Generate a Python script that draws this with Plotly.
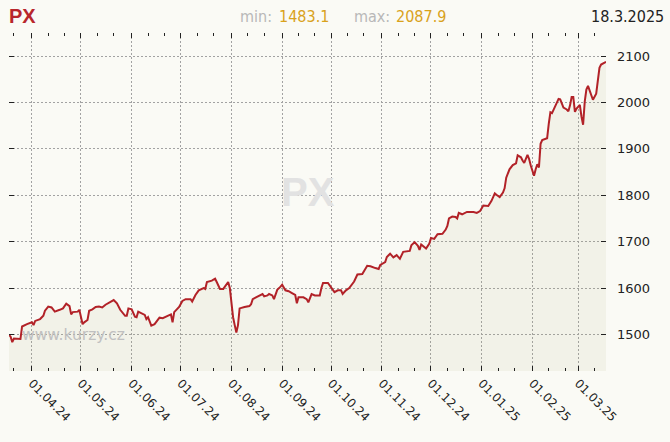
import pandas as pd
import plotly.graph_objects as go

# ---- data ----
start_date = "2024-03-18"
day_offsets = [0,1,2,3,7,8,11,14,15,16,19,21,22,24,26,28,31,33,35,37,38,39,42,43,45,46,48,49,51,53,
               55,57,59,62,64,66,68,71,72,73,75,77,78,79,82,83,84,85,87,89,92,94,97,99,100,101,104,106,108,111,
               112,114,116,119,120,121,124,126,127,129,131,134,135,136,137,138,139,140,141,144,147,148,149,151,153,155,156,158,159,161,
               162,164,166,167,169,171,173,175,176,177,180,182,183,185,187,190,191,192,195,197,199,201,203,204,206,208,210,211,213,216,
               219,221,224,226,227,230,231,233,235,237,239,241,245,246,248,250,251,252,255,257,258,260,262,265,267,268,269,271,273,274,
               275,277,280,284,286,288,290,293,295,297,298,300,302,303,304,306,308,310,311,313,314,315,317,318,319,321,322,323,324,325,
               326,329,330,331,332,334,336,337,339,341,342,343,344,345,346,347,349,350,351,352,353,354,355,356,357,359,360,361,362,365]
px_values = [1499,1495,1483.1,1491,1490,1517,1522,1526,1520,1529,1533,1540,1551,1560,1558,1549,1553,1556,1566,1561,1543,1548,1549,1553,1522,1526,1531,1551,1554,1559,
             1560,1558,1564,1569,1574,1567,1553,1540,1540,1556,1554,1538,1537,1549,1544,1542,1533,1537,1519,1522,1536,1535,1540,1543,1526,1548,1559,1572,1576,1576,
             1571,1585,1595,1600,1598,1613,1616,1620,1613,1598,1598,1613,1600,1566,1537,1520,1504,1520,1556,1559,1561,1565,1576,1580,1584,1587,1582,1584,1587,1584,
             1576,1596,1603,1607,1595,1593,1589,1585,1567,1580,1580,1576,1569,1587,1584,1584,1600,1611,1611,1600,1591,1595,1595,1587,1595,1600,1611,1614,1629,1630,
             1648,1647,1643,1641,1650,1656,1667,1674,1666,1671,1663,1678,1680,1692,1699,1691,1682,1694,1685,1696,1708,1706,1716,1717,1726,1734,1750,1754,1753,1750,
             1762,1759,1764,1764,1762,1766,1778,1777,1788,1804,1801,1796,1806,1815,1838,1856,1865,1869,1886,1882,1875,1870,1887,1878,1864,1842,1856,1867,1860,1911,
             1919,1923,1954,1979,1977,1992,2008,2007,1989,1985,1981,1994,2012,2012,1980,1987,1995,1970,1952,2002,2028,2036,2026,2012,2006,2019,2052,2075,2082,2087.9]
assert len(day_offsets) == len(px_values)

title_text = "PX"
site_text = "www.kurzy.cz"
y_ticks = [1500, 1600, 1700, 1800, 1900, 2000, 2100]

dates = pd.Timestamp(start_date) + pd.to_timedelta(day_offsets, unit="D")
last_date = dates[-1]

# minor ticks on 11th and 21st of each month
minor_vals = [d for d in pd.date_range(dates[0], last_date, freq="D") if d.day in (11, 21)]

BG = "#fafaf5"
GRID = "#a2a2a2"
DASH = "2px,2px"
fig = go.Figure()
fig.add_trace(go.Scatter(
    x=dates, y=px_values, mode="lines",
    line=dict(color="#b22228", width=2),
    fill="tozeroy", fillcolor="rgba(175,175,120,0.1)",
    hoverinfo="skip", showlegend=False,
))

fig.update_layout(
    width=670, height=442,
    margin=dict(l=9, r=64, t=33, b=71),
    paper_bgcolor=BG, plot_bgcolor=BG,
    font=dict(family="DejaVu Sans", color="#222222"),
    xaxis=dict(
        range=[dates[0], last_date],
        tickmode="linear", tick0="2024-04-01", dtick="M1",
        tickformat="%d.%m.%y", tickangle=45,
        ticks="inside", ticklen=5, tickcolor="#222222", tickwidth=1,
        mirror="ticks", showline=False, zeroline=False,
        showgrid=True, gridcolor=GRID, griddash=DASH, gridwidth=1,
        tickfont=dict(size=12, color="#222222"),
        ticklabelstandoff=2,
        minor=dict(tickmode="array", tickvals=minor_vals, ticks="inside", ticklen=3,
                   tickcolor="#222222", showgrid=False),
    ),
    yaxis=dict(
        range=[1421, 2150], side="right",
        tickmode="array", tickvals=y_ticks,
        ticks="inside", ticklen=5, tickcolor="#222222",
        mirror="ticks", showline=False, zeroline=False,
        showgrid=True, gridcolor=GRID, griddash=DASH, gridwidth=1,
        tickfont=dict(size=13, color="#222222"),
        ticklabelstandoff=10,
    ),
)

hdr_font = "DejaVu Sans Condensed, DejaVu Sans"
ann = []
ann.append(dict(text="<b>%s</b>" % title_text, x=7, y=16, font=dict(family="Liberation Sans Narrow, Liberation Sans", size=20, color="#b8262c")))
ann.append(dict(text="min:", x=238, y=16, font=dict(family=hdr_font, size=16, color="#b8b8b8")))
ann.append(dict(text="%.1f" % min(px_values), x=277, y=16, font=dict(family=hdr_font, size=16, color="#d9a21c")))
ann.append(dict(text="max:", x=352, y=16, font=dict(family=hdr_font, size=16, color="#b8b8b8")))
ann.append(dict(text="%.1f" % max(px_values), x=394, y=16, font=dict(family=hdr_font, size=16, color="#d9a21c")))
ann.append(dict(text="%d.%d.%d" % (last_date.day, last_date.month, last_date.year), x=666, y=16, xanchor="right",
                font=dict(family=hdr_font, size=16, color="#222222")))
ann.append(dict(text="<b>%s</b>" % title_text, x=308, y=192, xanchor="center",
                font=dict(family="Liberation Sans Narrow, Liberation Sans", size=40, color="#e2e2e2")))
ann.append(dict(text=site_text, x=20, y=335, font=dict(family="DejaVu Sans", size=15.5, color="#c0c0c0")))

W, H = 670, 442
for a in ann:
    a.setdefault("xanchor", "left")
    fig.add_annotation(
        text=a["text"], xref="paper", yref="paper",
        x=(a["x"] - 9) / (W - 9 - 64), y=(H - 71 - a["y"]) / (H - 33 - 71),
        xanchor=a["xanchor"], yanchor="middle", showarrow=False,
        font=a["font"],
    )

fig.write_html("out.html")
